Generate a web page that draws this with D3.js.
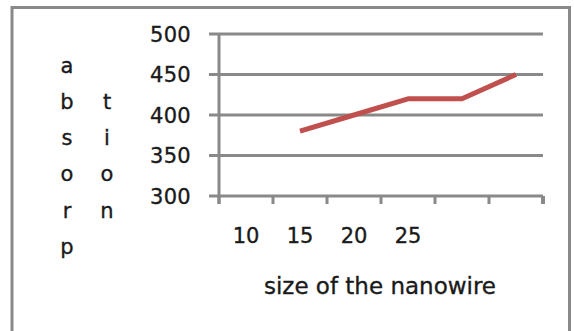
<!DOCTYPE html>
<html><head><meta charset="utf-8">
<script src="https://cdn.jsdelivr.net/npm/d3@7"></script>
<style>html,body{margin:0;padding:0;background:#fff;}svg{display:block;}</style>
</head><body>
<script>
const categories = ["10","15","20","25","",""];
const absorption = [null,380,400,420,420,450];
const yTicks = [300,350,400,450,500];
const yTitleCol1 = ["a","b","s","o","r","p"];
const yTitleCol2 = ["","t","i","o","n",""];
const xTitle = "size of the nanowire";

const W = 574, H = 331;
const svg = d3.select("body").append("svg").attr("width",W).attr("height",H);
const font = "'DejaVu Sans', sans-serif";
const grey = "#898989";
const ink = "#1a1a1a";

svg.append("rect").attr("x",12).attr("y",7.5).attr("width",557.5).attr("height",325)
  .attr("fill","none").attr("stroke",grey).attr("stroke-width",3);

const x = d3.scaleBand().domain(d3.range(categories.length)).range([219,543]).paddingInner(0).paddingOuter(0);
const y = d3.scaleLinear().domain([300,500]).range([196,34]);

// gridlines
svg.append("g").selectAll("line").data(yTicks).join("line")
  .attr("x1",209).attr("x2",543).attr("y1",d=>y(d)).attr("y2",d=>y(d))
  .attr("stroke",grey).attr("stroke-width",3);
// y axis line
svg.append("line").attr("x1",219).attr("x2",219).attr("y1",y(500)-1).attr("y2",y(300)+8)
  .attr("stroke",grey).attr("stroke-width",3);
// x ticks at boundaries
const bounds = d3.range(categories.length+1).map(i => x.range()[0] + i*x.step());
svg.append("g").selectAll("line").data(bounds).join("line")
  .attr("x1",d=>d).attr("x2",d=>d).attr("y1",y(300)).attr("y2",y(300)+8)
  .attr("stroke",grey).attr("stroke-width",(d,i)=> i===bounds.length-1?4:3);

function styleText(sel, size){
  sel.attr("font-family",font).attr("font-size",size).attr("fill",ink)
     .attr("stroke",ink).attr("stroke-width",0.35);
}

// y labels
styleText(svg.append("g").selectAll("text").data(yTicks).join("text")
  .attr("x",191).attr("y",d=>y(d)).attr("dy","0.36em").attr("text-anchor","end")
  .style("letter-spacing","0.3px")
  .text(d=>d), 21);

// x labels
styleText(svg.append("g").selectAll("text").data(categories).join("text")
  .attr("x",(d,i)=>x(i)+x.bandwidth()/2).attr("y",243).attr("text-anchor","middle")
  .text(d=>d), 21);

// line
const line = d3.line().defined(d=>d!=null).x((d,i)=>x(i)+x.bandwidth()/2).y(d=>y(d));
svg.append("path").datum(absorption).attr("d",line)
  .attr("fill","none").attr("stroke","#C0504D").attr("stroke-width",5).attr("stroke-linejoin","round");

// x title
styleText(svg.append("text").attr("x",380).attr("y",294).attr("text-anchor","middle")
  .text(xTitle), 23);

// vertical y title
const rowY = [65,101,137,173,210,246];
styleText(svg.append("g").selectAll("text").data(yTitleCol1).join("text")
  .attr("x",67).attr("y",(d,i)=>rowY[i]).attr("dy","0.36em").attr("text-anchor","middle")
  .text(d=>d), 21);
styleText(svg.append("g").selectAll("text").data(yTitleCol2).join("text")
  .attr("x",107).attr("y",(d,i)=>rowY[i]).attr("dy","0.36em").attr("text-anchor","middle")
  .text(d=>d), 21);
</script>
</body></html>
